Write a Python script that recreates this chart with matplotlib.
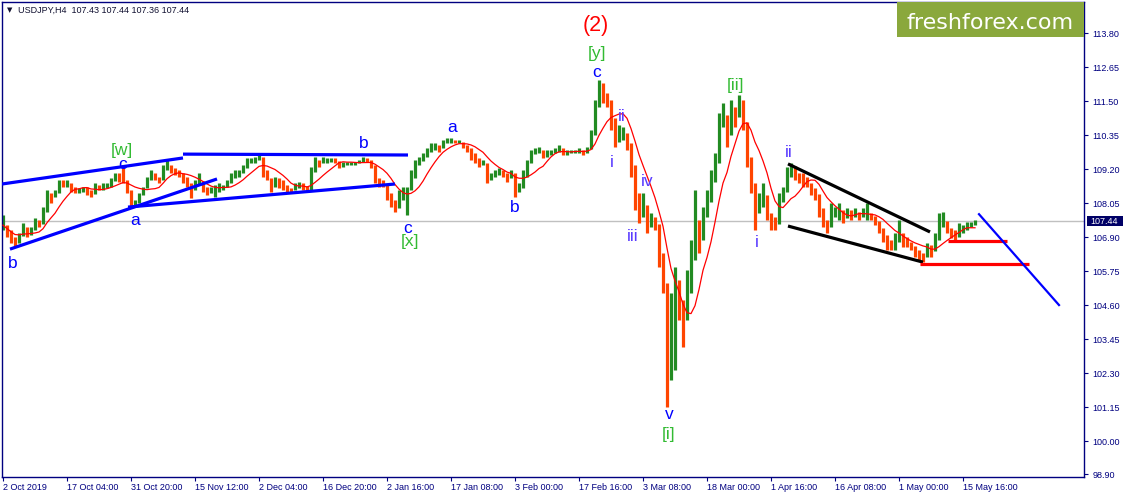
import numpy as np
import pandas as pd
import matplotlib
matplotlib.use('Agg')
import matplotlib.pyplot as plt
import matplotlib.transforms as mtransforms
from matplotlib.patches import Rectangle

plt.rcParams['font.family'] = ['Liberation Sans', 'DejaVu Sans']

STEP = 4  # H4 bars in one stored group

# USDJPY H4, one group of 4 bars per value, 2 Oct 2019 -> 20 May 2020
closes = [
    107.31, 107.08, 106.87, 106.71, 106.94, 107.15, 107.04, 107.15, 107.42, 107.35,
    107.75, 108.33, 108.26, 108.40, 108.73, 108.70, 108.73, 108.56, 108.46, 108.46,
    108.56, 108.43, 108.36, 108.63, 108.60, 108.63, 108.67, 108.80, 108.97, 108.90,
    108.80, 108.50, 108.06, 108.09, 108.33, 108.56, 108.83, 109.07, 108.90, 108.83,
    109.17,
    109.34, 109.17, 109.10, 109.04, 108.83, 108.73, 108.50, 108.73, 108.80, 108.56,
    108.43, 108.46, 108.50, 108.60, 108.60, 108.73, 108.94, 109.04, 109.07, 109.24,
    109.48, 109.48, 109.51, 109.61, 109.17, 108.90, 108.60, 108.77, 108.70, 108.67,
    108.53, 108.50, 108.60, 108.67, 108.63, 108.50, 109.10, 109.51, 109.41, 109.48,
    109.51, 109.51, 109.48, 109.34, 109.37, 109.41, 109.41, 109.41, 109.44, 109.54,
    109.51, 109.34, 108.90, 108.70, 108.67, 108.40, 108.06, 107.89, 108.26, 108.40,
    108.50, 108.90, 109.34, 109.48, 109.61, 109.78, 109.98, 109.98, 109.92, 110.08,
    110.15, 110.15, 110.12, 110.12, 109.98, 109.92, 109.64, 109.58, 109.41, 109.41,
    108.90, 108.97, 109.07, 109.10, 109.07, 108.90, 109.07, 108.43, 108.56, 108.94,
    109.41, 109.71, 109.81, 109.85, 109.68, 109.75, 109.78, 109.81, 109.92, 109.78,
    109.78, 109.78, 109.78, 109.81, 109.75, 109.88, 110.35, 111.30, 112.11, 111.71,
    111.54, 110.93, 110.25, 110.32, 110.42, 110.08, 109.34, 108.33, 107.89, 107.99,
    107.42, 107.48, 107.35, 106.37, 105.35, 102.41, 102.41, 104.61, 104.54, 104.10,
    105.02, 106.13, 107.48, 106.81, 107.58, 108.09, 108.77, 109.41, 110.69, 111.03,
    110.35, 111.13, 110.96, 111.55, 110.79, 109.61, 108.73, 107.82, 108.06, 108.33,
    107.72, 107.42, 107.35, 108.09, 108.43, 109.00, 109.30, 109.00, 108.90, 108.83,
    108.70, 108.53, 108.36, 107.89, 107.48, 107.25, 107.75, 107.75, 107.79, 107.58,
    107.72, 107.65, 107.75, 107.62, 107.72, 107.72, 107.62, 107.45, 107.21, 106.94,
    106.71, 106.64, 106.74, 107.04, 106.81, 106.74, 106.60, 106.40, 106.30, 106.23,
    106.47, 106.44, 106.81, 107.42, 107.45, 107.21, 107.04, 106.98, 107.15, 107.18,
    107.35, 107.42, 107.44,
]
highs = [
    107.65, 107.24, 107.14, 106.91, 107.04, 107.38, 107.24, 107.24, 107.55, 107.48,
    107.92, 108.50, 108.40, 108.50, 108.83, 108.83, 108.83, 108.73, 108.60, 108.56,
    108.60, 108.60, 108.50, 108.73, 108.66, 108.73, 108.73, 108.90, 109.07, 109.07,
    109.34, 108.83, 108.26, 108.16, 108.40, 108.60, 108.94, 109.17, 109.07, 108.94,
    109.34,
    109.51, 109.27, 109.24, 109.17, 109.07, 108.94, 108.73, 108.83, 109.07, 108.73,
    108.60, 108.60, 108.66, 108.73, 108.66, 108.83, 109.07, 109.17, 109.17, 109.34,
    109.58, 109.58, 109.61, 109.71, 109.41, 109.17, 108.73, 108.94, 108.90, 108.83,
    108.66, 108.56, 108.73, 108.77, 108.73, 108.60, 109.27, 109.61, 109.51, 109.61,
    109.58, 109.58, 109.58, 109.44, 109.44, 109.44, 109.44, 109.44, 109.51, 109.61,
    109.58, 109.44, 109.17, 108.83, 108.83, 108.60, 108.26, 108.16, 108.50, 108.60,
    108.60, 109.17, 109.51, 109.61, 109.75, 109.92, 110.08, 110.08, 110.02, 110.19,
    110.25, 110.25, 110.19, 110.19, 110.08, 110.02, 109.75, 109.75, 109.58, 109.51,
    109.07, 109.07, 109.17, 109.24, 109.17, 109.00, 109.17, 108.60, 108.73, 109.17,
    109.51, 109.85, 109.92, 109.95, 109.78, 109.85, 109.85, 109.92, 110.02, 109.85,
    109.85, 109.85, 109.85, 109.92, 109.85, 109.95, 110.52, 111.54, 112.21, 111.98,
    111.77, 111.44, 110.76, 110.69, 110.62, 110.42, 109.75, 108.73, 108.40, 108.40,
    107.72, 107.72, 107.58, 106.81, 105.69, 104.61, 105.02, 105.90, 105.46, 104.78,
    105.79, 106.81, 108.50, 107.24, 107.92, 108.50, 109.17, 109.75, 111.10, 111.44,
    110.76, 111.54, 111.30, 111.71, 111.10, 109.95, 109.07, 108.16, 108.40, 108.73,
    107.92, 107.72, 107.58, 108.40, 108.60, 109.27, 109.41, 109.17, 109.07, 109.07,
    108.94, 108.73, 108.56, 108.16, 107.72, 107.48, 108.06, 107.92, 108.06, 107.82,
    107.89, 107.82, 107.89, 107.75, 107.89, 108.06, 107.72, 107.58, 107.38, 107.08,
    106.98, 106.81, 107.04, 107.48, 106.98, 106.91, 106.71, 106.57, 106.47, 106.37,
    106.71, 106.64, 107.04, 107.72, 107.75, 107.38, 107.21, 107.14, 107.38, 107.31,
    107.41, 107.41, 107.48,
]
lows = [
    107.14, 106.91, 106.71, 106.57, 106.81, 107.04, 106.91, 106.98, 107.24, 107.24,
    107.58, 108.06, 108.06, 108.26, 108.60, 108.60, 108.60, 108.43, 108.40, 108.40,
    108.43, 108.33, 108.26, 108.50, 108.50, 108.50, 108.56, 108.60, 108.83, 108.77,
    108.73, 108.40, 107.92, 107.99, 108.06, 108.40, 108.60, 108.94, 108.83, 108.73,
    109.07,
    109.24, 109.07, 109.00, 108.94, 108.73, 108.60, 108.23, 108.60, 108.66, 108.43,
    108.33, 108.40, 108.26, 108.43, 108.50, 108.60, 108.83, 108.90, 108.94, 109.10,
    109.41, 109.41, 109.41, 109.51, 108.94, 108.83, 108.43, 108.66, 108.56, 108.50,
    108.43, 108.40, 108.50, 108.56, 108.50, 108.43, 108.83, 109.41, 109.27, 109.41,
    109.41, 109.44, 109.41, 109.24, 109.27, 109.34, 109.34, 109.34, 109.41, 109.44,
    109.44, 109.24, 108.73, 108.60, 108.60, 108.16, 107.92, 107.75, 108.06, 108.16,
    107.65, 108.60, 109.17, 109.34, 109.51, 109.61, 109.92, 109.85, 109.78, 109.95,
    110.08, 110.08, 110.08, 110.08, 109.92, 109.78, 109.51, 109.41, 109.27, 109.34,
    108.73, 108.83, 108.94, 109.00, 108.94, 108.77, 108.94, 108.26, 108.43, 108.73,
    109.27, 109.61, 109.75, 109.75, 109.58, 109.61, 109.68, 109.75, 109.78, 109.68,
    109.68, 109.75, 109.75, 109.75, 109.68, 109.78, 110.08, 111.10, 111.87, 111.44,
    111.30, 110.52, 109.95, 110.12, 110.19, 109.85, 108.94, 107.82, 107.38, 107.58,
    107.04, 107.24, 107.14, 105.90, 105.02, 101.17, 102.08, 104.10, 104.10, 103.19,
    104.54, 105.90, 106.91, 106.37, 107.24, 107.72, 108.40, 109.07, 110.29, 110.62,
    109.95, 110.76, 110.62, 111.10, 110.52, 109.27, 108.40, 107.14, 107.72, 107.92,
    107.48, 107.14, 107.14, 107.82, 108.26, 108.73, 108.94, 108.83, 108.73, 108.60,
    108.60, 108.33, 108.16, 107.58, 107.24, 107.04, 107.48, 107.58, 107.48, 107.38,
    107.55, 107.48, 107.58, 107.48, 107.58, 107.48, 107.48, 107.31, 107.04, 106.74,
    106.47, 106.47, 106.47, 106.81, 106.57, 106.57, 106.47, 106.23, 106.13, 106.06,
    106.23, 106.23, 106.57, 107.14, 107.24, 107.04, 106.87, 106.81, 106.91, 107.04,
    107.14, 107.24, 107.30,
]

date_labels = ['2 Oct 2019', '17 Oct 04:00', '31 Oct 20:00', '15 Nov 12:00', '2 Dec 04:00',
               '16 Dec 20:00', '2 Jan 16:00', '17 Jan 08:00', '3 Feb 00:00', '17 Feb 16:00',
               '3 Mar 08:00', '18 Mar 00:00', '1 Apr 16:00', '16 Apr 08:00', '1 May 00:00',
               '15 May 16:00']
price_ticks = [113.80, 112.65, 111.50, 110.35, 109.20, 108.05, 106.90, 105.75,
               104.60, 103.45, 102.30, 101.15, 100.00, 98.90]
last_price = 107.44
header = 'USDJPY,H4  107.43 107.44 107.36 107.44'

# drawn objects: (bar0, price0, bar1, price1)
blue_lines = [(-1, 108.70, 180, 109.58), (180, 109.71, 405, 109.68),
              (7, 106.50, 214, 108.87), (125, 107.92, 392, 108.70)]
black_lines = [(785, 109.38, 927, 107.08), (785, 107.28, 920, 106.06)]
red_levels = [(945, 1004, 106.77), (917, 1026, 105.99)]
forecast = (976, 107.68, 1056, 104.61)

# wave labels: text, bar, price, kind
waves = [
    ('[w]', 119, 109.82, 'g'), ('c', 120, 109.36, 'b'), ('a', 132, 107.48, 'b'),
    ('b', 10, 106.03, 'b'), ('b', 361, 110.08, 'b'), ('c', 405, 107.21, 'b'),
    ('[x]', 407, 106.77, 'g'), ('a', 449, 110.62, 'b'), ('b', 512, 107.89, 'b'),
    ('c', 594, 112.48, 'b'), ('[y]', 594, 113.12, 'g'), ('(2)', 593, 114.04, 'r'),
    ('ii', 619, 110.99, 'p'), ('i', 609, 109.44, 'p'), ('iv', 644, 108.77, 'p'),
    ('iii', 630, 106.94, 'p'), ('v', 666, 100.90, 'b'), ('[i]', 666, 100.22, 'g'),
    ('[ii]', 732, 112.04, 'g'), ('i', 754, 106.71, 'p'), ('ii', 786, 109.75, 'p'),
]
wave_colors = {'g': '#33bb33', 'b': '#0000ff', 'p': '#5a3cff', 'r': '#ff0000'}

NAVY = '#000080'
UP = '#228b22'
DOWN = '#ff4500'

fig = plt.figure(figsize=(11.25, 4.98), dpi=100)
ax = fig.add_axes([2 / 1125, 21 / 498, 1082 / 1125, 475 / 498])
ax.set_xlim(-1, 1081)
ax.set_ylim(98.80, 114.85)

c = np.array(closes)
hi = np.array(highs)
lo = np.array(lows)
bars = np.arange(len(c)) * STEP
opens = np.r_[c[0], c[:-1]]
top = np.maximum.reduce([hi, c, opens])
bot = np.minimum.reduce([lo, c, opens])
up = c >= opens

ax.axhline(last_price, color='#c0c0c0', lw=1, zorder=0)

ax.vlines(bars[up], bot[up], top[up], color=UP, lw=2.3, zorder=2)
ax.vlines(bars[~up], bot[~up], top[~up], color=DOWN, lw=2.3, zorder=2)

ma = pd.Series(c).rolling(8, min_periods=1).mean()
ax.plot(bars, ma, color='#ff0000', lw=0.9, zorder=3)

for x0, y0, x1, y1 in blue_lines:
    ax.plot([x0, x1], [y0, y1], color='#0000ff', lw=2.3, solid_capstyle='butt', zorder=4)
for x0, y0, x1, y1 in black_lines:
    ax.plot([x0, x1], [y0, y1], color='#000000', lw=2.3, solid_capstyle='butt', zorder=4)
for x0, x1, y in red_levels:
    ax.plot([x0, x1], [y, y], color='#ff0000', lw=2.3, solid_capstyle='butt', zorder=4)
ax.plot([forecast[0], forecast[2]], [forecast[1], forecast[3]], color='#0000ff', lw=1.6, zorder=4)

for txt, b, p, kind in waves:
    size = 15.5 if kind == 'r' else 12.5
    ax.text(b, p, txt, ha='center', va='center', color=wave_colors[kind], fontsize=size, zorder=5)

for s in ax.spines.values():
    s.set_color(NAVY)
    s.set_linewidth(1)

ax.yaxis.tick_right()
ax.set_yticks(price_ticks)
ax.set_yticklabels([f'{v:.2f}' for v in price_ticks])
ax.tick_params(axis='y', colors=NAVY, labelsize=6.5, length=3, pad=3)
ax.set_xticks([i * 64 for i in range(len(date_labels))])
ax.set_xticklabels(date_labels, ha='left')
ax.tick_params(axis='x', colors=NAVY, labelsize=6.5, length=3, pad=1.5)

# current price marker on the scale
tr = mtransforms.blended_transform_factory(ax.transAxes, ax.transData)
ax.add_patch(Rectangle((1.0028, last_price - 0.17), 0.0333, 0.34, transform=tr,
                       fc='#000066', ec='none', clip_on=False, zorder=6))
ax.text(1.0055, last_price, f'{last_price:.2f}', transform=tr, ha='left', va='center',
        color='white', fontsize=6.5, clip_on=False, zorder=7)

# header and watermark box
fig.text(9.5 / 1125, 1 - 10 / 498, '\u25bc', fontsize=5, color='#101030', ha='center', va='center',
         family=['DejaVu Sans'])
fig.text(18 / 1125, 1 - 10 / 498, header, fontsize=6.5, color='#101030', ha='left', va='center')
fig.patches.append(Rectangle((897 / 1125, 1 - 37 / 498), 187 / 1125, 35 / 498,
                             transform=fig.transFigure, fc='#8aa83c', ec='none', zorder=10))
fig.text(990 / 1125, 1 - 29 / 498, 'freshforex.com', fontsize=16, color='white',
         ha='center', va='baseline', family=['DejaVu Sans'], zorder=11)

fig.savefig('out.png', dpi=100)
